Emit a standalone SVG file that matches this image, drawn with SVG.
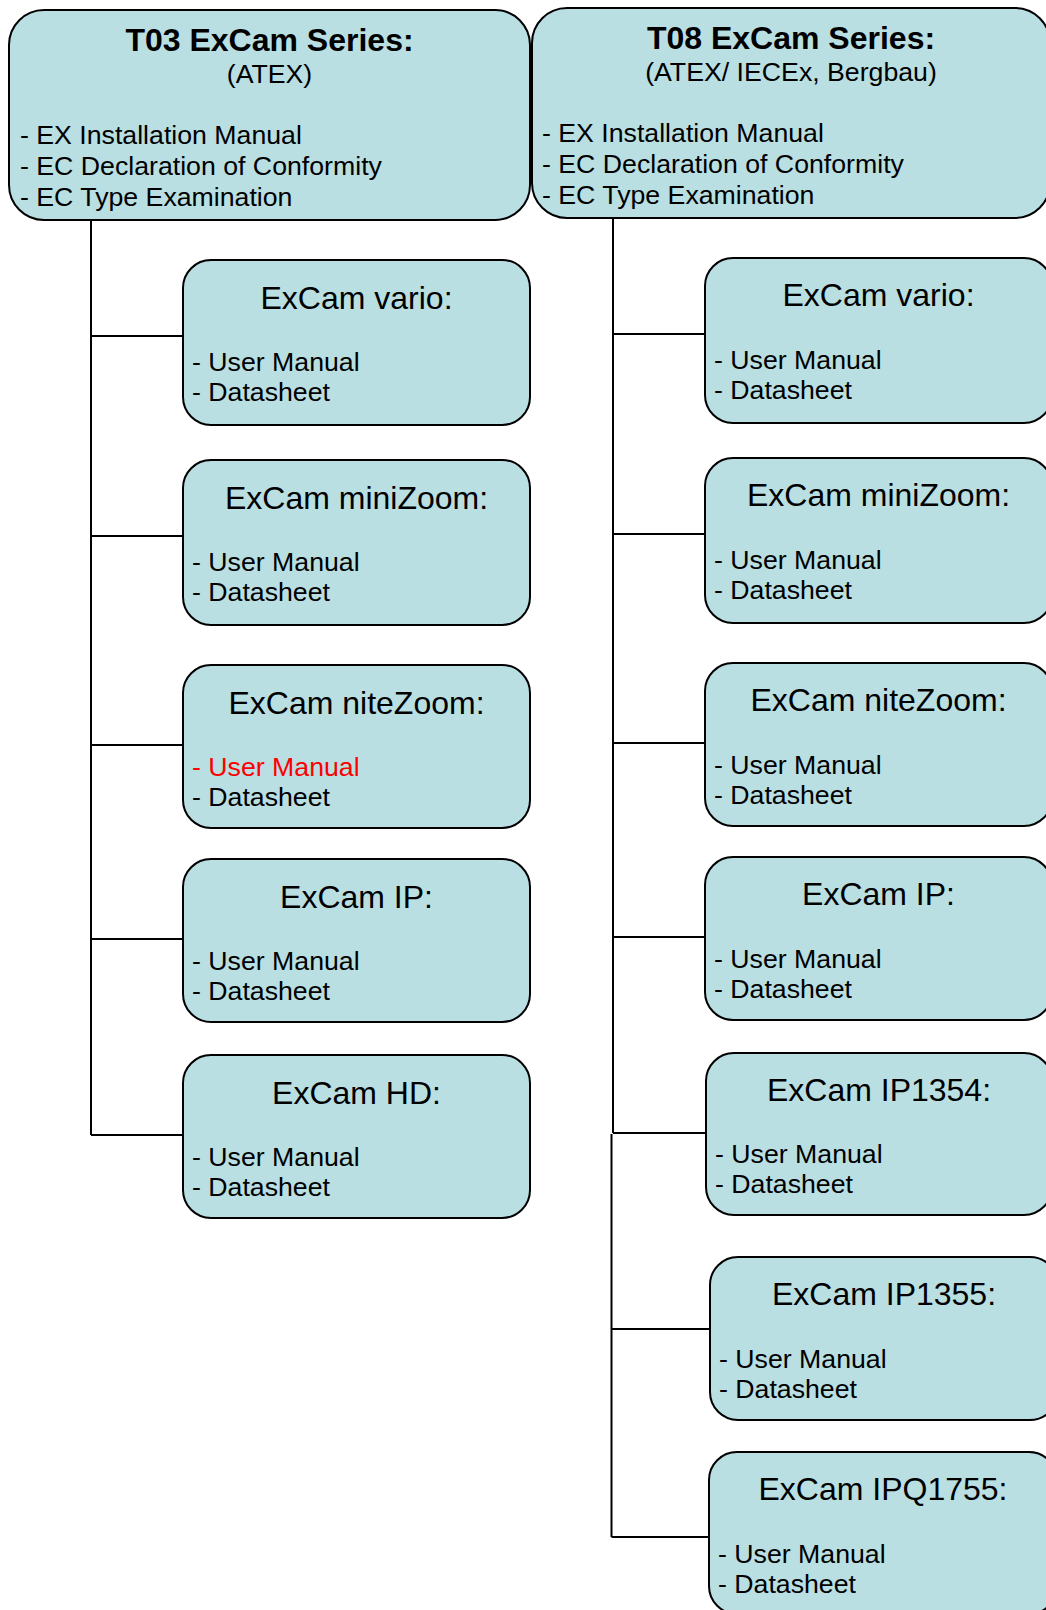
<svg xmlns="http://www.w3.org/2000/svg" width="1046" height="1610" viewBox="0 0 1046 1610">
<style>
.box{fill:#B9DFE3;stroke:#000;stroke-width:2}
.t{font-family:"Liberation Sans",Arial,sans-serif;fill:#000}
.h{font-size:32px;font-weight:bold;text-anchor:middle}
.s{font-size:26.7px;text-anchor:middle}
.ct{font-size:32px;text-anchor:middle}
.b{font-size:26.7px}
.red{fill:#FF0000}
.ln{stroke:#000;stroke-width:2;fill:none}
</style>
<rect width="1046" height="1610" fill="#fff"/>
<g id="connectors">
<path class="ln" d="M91,220 V1135 M91,336 H183 M91,536 H183 M91,745 H183 M91,939 H183 M91,1135 H183"/>
<path class="ln" d="M613,218 V1133 M613,334 H705 M613,534 H705 M613,743 H705 M613,937 H705 M613,1133 H705"/>
<path class="ln" d="M611.5,1134 V1537 M611.5,1329 H709 M611.5,1537 H708"/>
</g>
<g id="t03">
<rect class="box" x="9" y="10" width="521" height="210" rx="35"/>
<text class="t h" x="269.5" y="51">T03 ExCam Series:</text>
<text class="t s" x="269.5" y="83">(ATEX)</text>
<text class="t b" x="20" y="144">- EX Installation Manual</text>
<text class="t b" x="20" y="174.8">- EC Declaration of Conformity</text>
<text class="t b" x="20" y="205.6">- EC Type Examination</text>
</g>
<g id="t08">
<rect class="box" x="532" y="8" width="518" height="210" rx="35"/>
<text class="t h" x="791" y="49">T08 ExCam Series:</text>
<text class="t s" x="791" y="81">(ATEX/ IECEx, Bergbau)</text>
<text class="t b" x="542" y="142">- EX Installation Manual</text>
<text class="t b" x="542" y="172.8">- EC Declaration of Conformity</text>
<text class="t b" x="542" y="203.6">- EC Type Examination</text>
</g>
<g id="l-vario">
<rect class="box" x="183" y="260" width="347" height="165" rx="28"/>
<text class="t ct" x="356.5" y="308.5">ExCam vario:</text>
<text class="t b" x="192" y="371">- User Manual</text>
<text class="t b" x="192" y="401">- Datasheet</text>
</g>
<g id="l-minizoom">
<rect class="box" x="183" y="460" width="347" height="165" rx="28"/>
<text class="t ct" x="356.5" y="508.5">ExCam miniZoom:</text>
<text class="t b" x="192" y="571">- User Manual</text>
<text class="t b" x="192" y="601">- Datasheet</text>
</g>
<g id="l-nitezoom">
<rect class="box" x="183" y="665" width="347" height="163" rx="28"/>
<text class="t ct" x="356.5" y="713.5">ExCam niteZoom:</text>
<text class="t b red" x="192" y="776">- User Manual</text>
<text class="t b" x="192" y="806">- Datasheet</text>
</g>
<g id="l-ip">
<rect class="box" x="183" y="859" width="347" height="163" rx="28"/>
<text class="t ct" x="356.5" y="907.5">ExCam IP:</text>
<text class="t b" x="192" y="970">- User Manual</text>
<text class="t b" x="192" y="1000">- Datasheet</text>
</g>
<g id="l-hd">
<rect class="box" x="183" y="1055" width="347" height="163" rx="28"/>
<text class="t ct" x="356.5" y="1103.5">ExCam HD:</text>
<text class="t b" x="192" y="1166">- User Manual</text>
<text class="t b" x="192" y="1196">- Datasheet</text>
</g>
<g id="r-vario">
<rect class="box" x="705" y="258" width="347" height="165" rx="28"/>
<text class="t ct" x="878.5" y="306">ExCam vario:</text>
<text class="t b" x="714" y="369">- User Manual</text>
<text class="t b" x="714" y="399">- Datasheet</text>
</g>
<g id="r-minizoom">
<rect class="box" x="705" y="458" width="347" height="165" rx="28"/>
<text class="t ct" x="878.5" y="506">ExCam miniZoom:</text>
<text class="t b" x="714" y="569">- User Manual</text>
<text class="t b" x="714" y="599">- Datasheet</text>
</g>
<g id="r-nitezoom">
<rect class="box" x="705" y="663" width="347" height="163" rx="28"/>
<text class="t ct" x="878.5" y="711">ExCam niteZoom:</text>
<text class="t b" x="714" y="774">- User Manual</text>
<text class="t b" x="714" y="804">- Datasheet</text>
</g>
<g id="r-ip">
<rect class="box" x="705" y="857" width="347" height="163" rx="28"/>
<text class="t ct" x="878.5" y="905">ExCam IP:</text>
<text class="t b" x="714" y="968">- User Manual</text>
<text class="t b" x="714" y="998">- Datasheet</text>
</g>
<g id="r-ip1354">
<rect class="box" x="706" y="1053" width="346" height="162" rx="28"/>
<text class="t ct" x="879" y="1100.5">ExCam IP1354:</text>
<text class="t b" x="715" y="1163">- User Manual</text>
<text class="t b" x="715" y="1193">- Datasheet</text>
</g>
<g id="r-ip1355">
<rect class="box" x="710" y="1257" width="348" height="163" rx="28"/>
<text class="t ct" x="884" y="1304.5">ExCam IP1355:</text>
<text class="t b" x="719" y="1368">- User Manual</text>
<text class="t b" x="719" y="1398">- Datasheet</text>
</g>
<g id="r-ipq1755">
<rect class="box" x="709" y="1452" width="348" height="162" rx="28"/>
<text class="t ct" x="883" y="1499.5">ExCam IPQ1755:</text>
<text class="t b" x="718" y="1563">- User Manual</text>
<text class="t b" x="718" y="1593">- Datasheet</text>
</g>
</svg>
